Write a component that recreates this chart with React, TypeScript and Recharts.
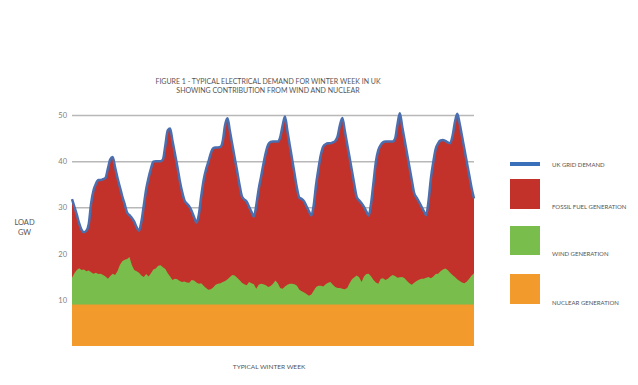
import React from 'react';
import { ComposedChart, Area, Line, XAxis, YAxis, CartesianGrid } from 'recharts';

// Hourly values across one winter week (hour 0 .. hour 168), GW
const NUCLEAR_GW = 9.0;
const Y_MAX = 51;

const demand: number[] = [
  // day 1
  31.9, 30.2, 28.5, 26.6, 25.2, 24.7, 25.0, 26.5, 31.0, 33.8, 35.2, 36.0, 36.0, 36.2, 36.5, 38.5, 40.5, 41.0, 38.8, 36.5, 34.5, 32.5, 30.8, 29.0,
  // day 2
  28.4, 27.8, 27.0, 25.8, 25.0, 27.0, 30.5, 34.0, 36.5, 38.5, 40.0, 40.1, 40.1, 40.1, 40.5, 43.5, 46.8, 47.2, 44.5, 41.8, 39.0, 36.0, 33.5, 31.6,
  // day 3
  30.9, 30.3, 29.3, 28.0, 26.8, 28.5, 32.5, 36.0, 38.3, 40.0, 41.8, 42.9, 43.1, 43.1, 43.2, 44.5, 48.0, 49.4, 46.6, 43.7, 40.8, 38.0, 35.0, 32.5,
  // day 4
  31.8, 31.3, 30.2, 29.1, 28.1, 30.5, 34.0, 36.7, 39.5, 42.0, 43.7, 44.3, 44.4, 44.4, 44.4, 45.3, 47.8, 49.8, 46.7, 43.6, 40.5, 37.4, 34.3, 32.2,
  // day 5
  31.9, 31.4, 30.3, 29.3, 28.3, 30.5, 35.0, 38.5, 41.5, 43.3, 43.8, 44.0, 44.0, 44.2, 44.5, 45.5, 48.0, 49.5, 46.7, 43.8, 40.9, 38.0, 35.0, 32.3,
  // day 6
  31.6, 31.0, 30.2, 29.2, 28.3, 31.0, 35.5, 40.0, 42.5, 43.6, 44.2, 44.4, 44.4, 44.4, 44.4, 45.0, 48.0, 50.5, 47.6, 44.7, 41.8, 38.9, 36.0, 33.2,
  // day 7 (+ final hour)
  32.2, 31.3, 30.3, 29.3, 28.4, 31.5, 36.5, 40.0, 42.8, 44.0, 44.6, 44.7, 44.5, 44.2, 44.0, 45.5, 48.5, 50.4, 48.3, 45.5, 42.7, 39.9, 37.1, 34.3, 32.0,
];

const wind: number[] = [
  5.8, 6.8, 7.5, 7.9, 7.5, 7.6, 7.2, 7.4, 7.0, 6.7, 6.9, 6.6, 6.7, 6.4, 6.1, 5.6, 6.2, 6.7, 6.4, 7.2, 8.6, 9.4, 9.7, 9.9, 10.3,
  8.6, 7.5, 7.2, 6.9, 6.3, 6.0, 6.6, 6.1, 6.8, 7.6, 7.8, 8.4, 8.5, 8.1, 7.7, 6.8, 6.1, 5.3, 5.6, 5.5, 5.1, 4.9, 5.0, 4.8, 4.7, 5.3, 5.2, 4.8, 4.5, 4.6,
  4.1, 3.6, 3.2, 3.3, 3.7, 4.3, 4.5, 4.6, 4.9, 5.1, 5.5, 6.0, 6.4, 6.3, 5.8, 5.3, 4.7, 4.4, 4.2, 4.9,
  4.6, 4.4, 3.4, 4.3, 4.5, 4.4, 4.2, 3.8, 4.0, 4.5, 5.2, 4.6, 3.6, 3.4, 3.9, 4.3, 4.5, 4.5, 4.4, 4.1,
  3.2, 2.9, 2.6, 2.3, 1.9, 2.2, 3.0, 3.8, 4.1, 4.1, 3.9, 4.4, 4.7, 4.9, 4.3,
  3.8, 3.6, 3.6, 3.4, 3.3, 3.6, 4.6, 5.5, 5.9, 6.3, 5.9, 4.9, 6.1, 6.6, 6.7, 6.1, 5.3, 4.8, 4.5, 5.6,
  5.7, 5.3, 5.6, 6.1, 6.4, 6.2, 5.8, 5.9, 6.0, 5.7, 5.1, 4.6, 4.3, 4.7, 5.1, 5.4, 5.6, 5.6, 5.8, 6.0,
  5.7, 6.1, 6.6, 6.7, 7.2, 7.6, 7.8, 7.5, 6.9, 6.4, 6.0, 5.5, 5.1, 4.8, 4.6, 5.0, 5.6, 6.3, 6.8,
];

const yTicks = [10, 20, 30, 40, 50];

const titleLines = [
  'FIGURE 1 - TYPICAL ELECTRICAL DEMAND FOR WINTER WEEK IN UK',
  'SHOWING CONTRIBUTION FROM WIND AND NUCLEAR',
];
const yLabelLines = ['LOAD', 'GW'];
const xLabel = 'TYPICAL WINTER WEEK';

const COLORS = {
  demand: '#4a6eae',
  demandLegend: '#3a70ba',
  fossil: '#c3322a',
  wind: '#79bd4c',
  nuclear: '#f29a2c',
  grid: '#b8b8b8',
  text: '#666',
};

const legendItems = [
  { label: 'UK GRID DEMAND', color: COLORS.demandLegend, y: 162, h: 4, ty: 166.5 },
  { label: 'FOSSIL FUEL GENERATION', color: COLORS.fossil, y: 179, h: 30, ty: 209 },
  { label: 'WIND GENERATION', color: COLORS.wind, y: 226, h: 29, ty: 255.5 },
  { label: 'NUCLEAR GENERATION', color: COLORS.nuclear, y: 274, h: 30, ty: 305 },
];

const data = demand.map((d, i) => ({
  h: i,
  demand: d,
  windTop: NUCLEAR_GW + wind[i],
  nuclear: NUCLEAR_GW,
}));

const FONT = 'Lato, "Open Sans", sans-serif';

const gridGenerator = (props: any) => {
  const yAxis = props && props.yAxis;
  if (yAxis && typeof yAxis.scale === 'function') {
    return yTicks.map((t) => yAxis.scale(t));
  }
  const off = props.offset;
  return yTicks.map((t) => off.top + off.height * (1 - t / Y_MAX));
};

export default function App() {
  return (
    <div style={{ position: 'absolute', left: 0, top: 0, width: 638, height: 385, background: '#fff' }}>
      <ComposedChart
        width={638}
        height={385}
        data={data}
        margin={{ top: 111, right: 164, bottom: 39, left: 42 }}
      >
        <CartesianGrid
          vertical={false}
          stroke={COLORS.grid}
          strokeWidth={1.5}
          horizontalCoordinatesGenerator={gridGenerator}
        />
        <XAxis
          dataKey="h"
          type="number"
          domain={[0, 168]}
          height={0}
          tick={false}
          tickLine={false}
          axisLine={{ stroke: '#aaa', strokeWidth: 1 }}
        />
        <YAxis
          width={30}
          domain={[0, Y_MAX]}
          ticks={yTicks}
          axisLine={false}
          tickLine={false}
          tickSize={0}
          tickMargin={5}
          tick={{ fontSize: 7.5, fill: '#808080', fontFamily: FONT }}
        />
        <Area
          dataKey="demand"
          type="monotone"
          stroke="none"
          fill={COLORS.fossil}
          fillOpacity={1}
          isAnimationActive={false}
        />
        <Area
          dataKey="windTop"
          type="linear"
          stroke="none"
          fill={COLORS.wind}
          fillOpacity={1}
          isAnimationActive={false}
        />
        <Area
          dataKey="nuclear"
          type="linear"
          stroke="none"
          fill={COLORS.nuclear}
          fillOpacity={1}
          isAnimationActive={false}
        />
        <Line
          dataKey="demand"
          type="monotone"
          stroke={COLORS.demand}
          strokeWidth={2.5}
          dot={false}
          isAnimationActive={false}
        />
      </ComposedChart>
      <svg
        width={638}
        height={385}
        style={{ position: 'absolute', left: 0, top: 0, pointerEvents: 'none' }}
        fontFamily={FONT}
      >
        {titleLines.map((t, i) => (
          <text key={t} x={268} y={83.5 + i * 9} textAnchor="middle" fontSize={7} fill="#555">
            {t}
          </text>
        ))}
        {yLabelLines.map((t, i) => (
          <text key={t} x={24.5} y={224.5 + i * 10} textAnchor="middle" fontSize={7.5} fill="#555">
            {t}
          </text>
        ))}
        <text x={269} y={368.5} textAnchor="middle" fontSize={6.5} fill="#555">
          {xLabel}
        </text>
        {legendItems.map((it) => (
          <g key={it.label}>
            <rect x={510} y={it.y} width={30} height={it.h} fill={it.color} />
            <text x={552} y={it.ty} fontSize={6} fill="#555">
              {it.label}
            </text>
          </g>
        ))}
      </svg>
    </div>
  );
}
